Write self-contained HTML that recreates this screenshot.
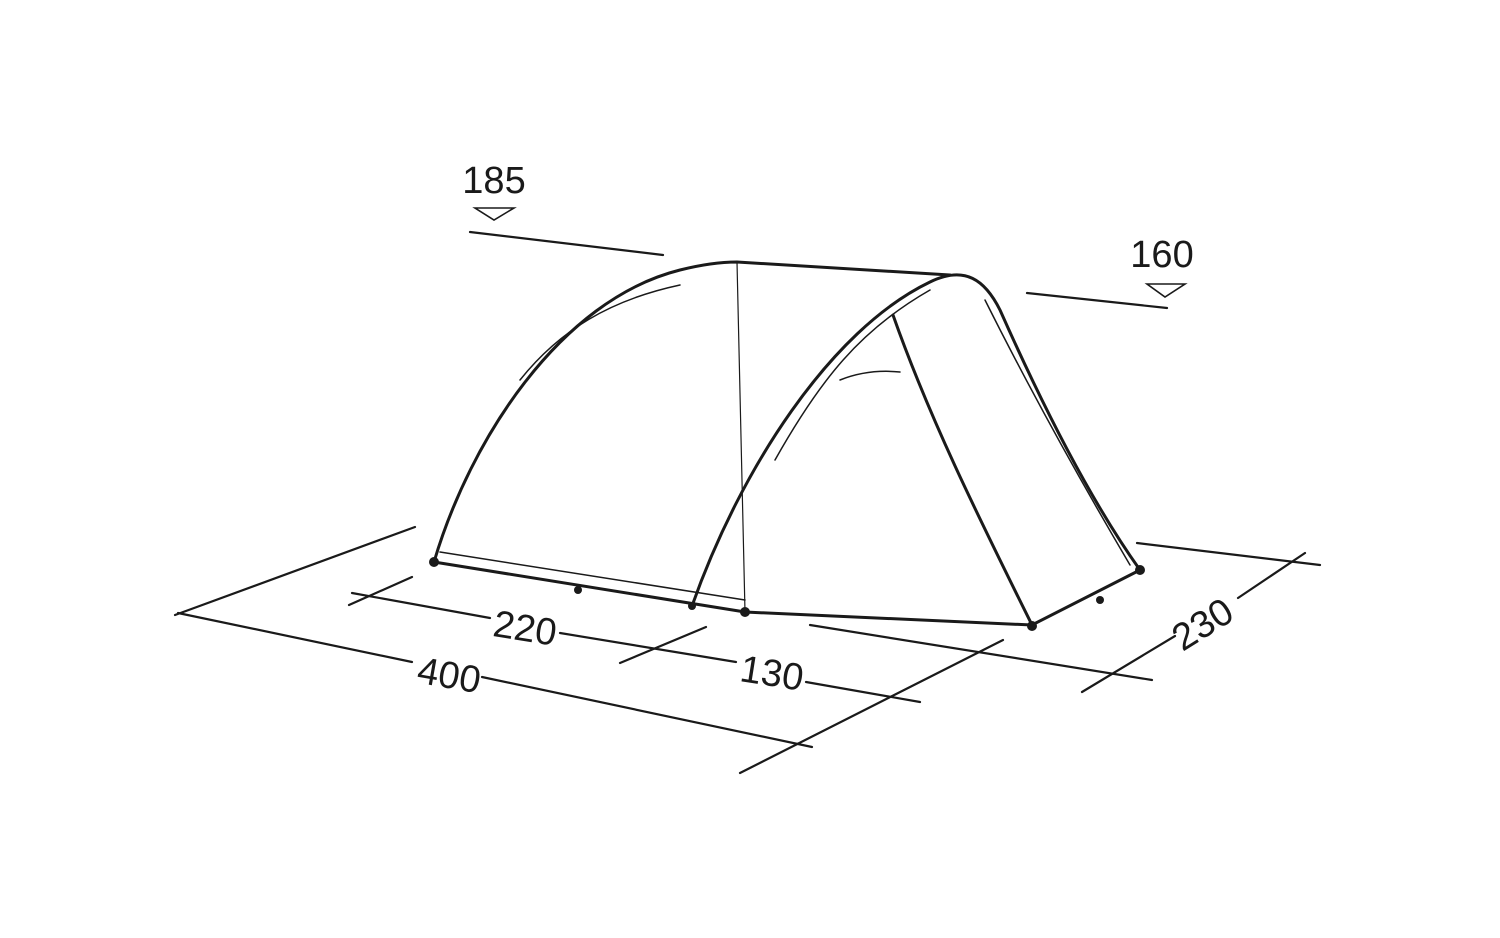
<!DOCTYPE html>
<html><head><style>html,body{margin:0;padding:0;background:#fff}svg{display:block}</style></head><body>
<svg width="1500" height="938" viewBox="0 0 1500 938" xmlns="http://www.w3.org/2000/svg">
<g fill="none" stroke="#1a1a1a" stroke-width="2.2" stroke-linecap="round">
<!-- height markers -->
<polygon points="475,208 514,208 494,220" stroke-width="1.6"/>
<line x1="470" y1="232" x2="663" y2="255"/>
<polygon points="1147,284 1185,284 1165,297" stroke-width="1.6"/>
<line x1="1027" y1="293" x2="1167" y2="308"/>
<!-- 400 -->
<line x1="175" y1="615" x2="415" y2="527"/>
<line x1="178" y1="613" x2="412" y2="662"/>
<line x1="482" y1="677" x2="812" y2="747"/>
<line x1="740" y1="773" x2="1003" y2="640"/>
<!-- 220 / 130 -->
<line x1="349" y1="605" x2="412" y2="577"/>
<line x1="352" y1="593" x2="490" y2="618"/>
<line x1="560" y1="633" x2="736" y2="662"/>
<line x1="620" y1="663" x2="706" y2="627"/>
<line x1="806" y1="682" x2="920" y2="702"/>
<line x1="810" y1="625" x2="1152" y2="680"/>
<!-- 230 -->
<line x1="1137" y1="543" x2="1320" y2="565"/>
<line x1="1082" y1="692" x2="1175" y2="636"/>
<line x1="1238" y1="598" x2="1305" y2="553"/>
<!-- tent -->
<g stroke-width="3">
<path d="M434,562 C470,440 560,300 680,270 C700,265 720,262 737,262 L950,275"/>
<path d="M692,606 C740,470 830,330 930,282 C965,265 985,280 1000,310 C1040,400 1090,500 1140,570"/>
<path d="M434,562 L745,612 L1032,625 L1140,570"/>
<path d="M893,315 C930,420 980,520 1032,625"/>
</g>
<path d="M985,300 C1030,390 1080,480 1130,565" stroke-width="1.5"/>
<path d="M520,380 C560,330 610,300 680,285" stroke-width="1.5"/>
<path d="M840,380 C860,372 880,370 900,372" stroke-width="1.5"/>
<path d="M775,460 C820,380 860,330 930,290" stroke-width="1.5"/>
<line x1="737" y1="262" x2="745" y2="612" stroke-width="1.2"/>
<line x1="440" y1="552" x2="745" y2="600" stroke-width="1.5"/>
</g>
<g fill="#1a1a1a">
<circle cx="434" cy="562" r="5"/><circle cx="578" cy="590" r="4"/><circle cx="692" cy="606" r="4"/>
<circle cx="745" cy="612" r="5"/><circle cx="1032" cy="626" r="5"/><circle cx="1100" cy="600" r="4"/><circle cx="1140" cy="570" r="5"/>
</g>
<g font-family="Liberation Sans, sans-serif" font-size="38" fill="#1a1a1a" text-anchor="middle">
<text x="494" y="193">185</text>
<text x="1162" y="267">160</text>
<text x="449" y="688" transform="rotate(10 449 676)">400</text>
<text x="525" y="641" transform="rotate(9 525 629)">220</text>
<text x="772" y="686" transform="rotate(9 772 673)">130</text>
<text x="1203" y="637" transform="rotate(-32 1203 625)">230</text>
</g>
</svg>
</body></html>
